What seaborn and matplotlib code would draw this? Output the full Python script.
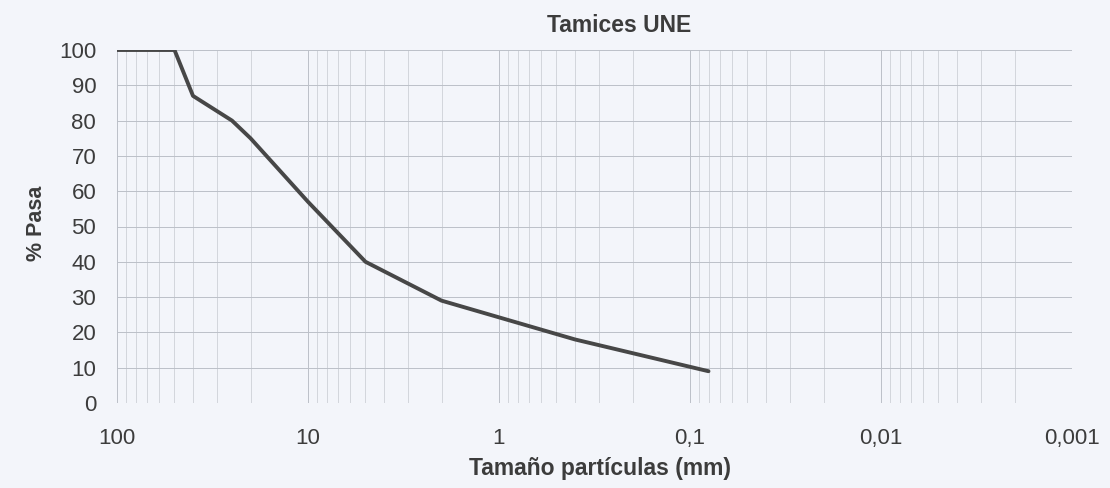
import matplotlib
matplotlib.use("Agg")
import matplotlib.pyplot as plt
import matplotlib.ticker as mticker
import seaborn as sns
import pandas as pd
import numpy as np

# Data
sizes_mm = [100, 80, 63, 50, 40, 25, 20, 10, 5, 2, 0.4, 0.08]
pct_pasa = [100, 100, 100, 100, 87, 80, 75, 57, 40, 29, 18, 9]
x_ticks = [100, 10, 1, 0.1, 0.01, 0.001]
x_tick_labels = ["100", "10", "1", "0,1", "0,01", "0,001"]
y_ticks = list(range(0, 101, 10))

title = "Tamices UNE"
xlabel = "Tamaño partículas (mm)"
ylabel = "% Pasa"

df = pd.DataFrame({"size": sizes_mm, "pasa": pct_pasa})

sns.set_style("white")
plt.rcParams['font.family'] = ['Liberation Sans', 'DejaVu Sans']

bg = "#f3f5fa"
txt = "#3c3c3c"
fig = plt.figure(figsize=(11.10, 4.88), dpi=100, facecolor=bg)
ax = fig.add_axes([117/1110, 1-403/488, (1072-117)/1110, (403-50)/488])
ax.set_facecolor(bg)

sns.lineplot(data=df, x="size", y="pasa", ax=ax, color="#474747",
             linewidth=2.8, sort=False, estimator=None)

ax.set_xscale("log")
ax.set_xlim(100, 0.001)
ax.set_ylim(0, 100)
ax.set_xticks(x_ticks)
ax.xaxis.set_major_formatter(mticker.FixedFormatter(x_tick_labels))
ax.xaxis.set_minor_locator(mticker.LogLocator(base=10, subs=np.arange(2, 10)))
ax.xaxis.set_minor_formatter(mticker.NullFormatter())
ax.set_yticks(y_ticks)

ax.grid(True, which="major", color="#bcc0c8", linewidth=0.7)
ax.grid(True, which="minor", axis="x", color="#cdd0d7", linewidth=0.6)

for s in ax.spines.values():
    s.set_visible(False)

ax.tick_params(axis="both", which="both", length=0, labelsize=16, labelcolor=txt)
ax.tick_params(axis="x", pad=18)
ax.tick_params(axis="y", pad=15)

ax.set_xlabel(xlabel, fontsize=16.5, fontweight="bold", color=txt)
ax.xaxis.set_label_coords((600 - 117) / 955, (403 - 468) / 353)
ax.xaxis.label.set_va("center")
ax.set_ylabel(ylabel, fontsize=15.5, fontweight="bold", color=txt)
ax.yaxis.set_label_coords((36 - 117) / 955, (403 - 223) / 353)
ax.yaxis.label.set_va("center")

fig.text(619/1110, 1-26/488, title, ha="center", va="center",
         fontsize=16.5, fontweight="bold", color=txt)

fig.savefig("out.png", dpi=100, facecolor=bg)
